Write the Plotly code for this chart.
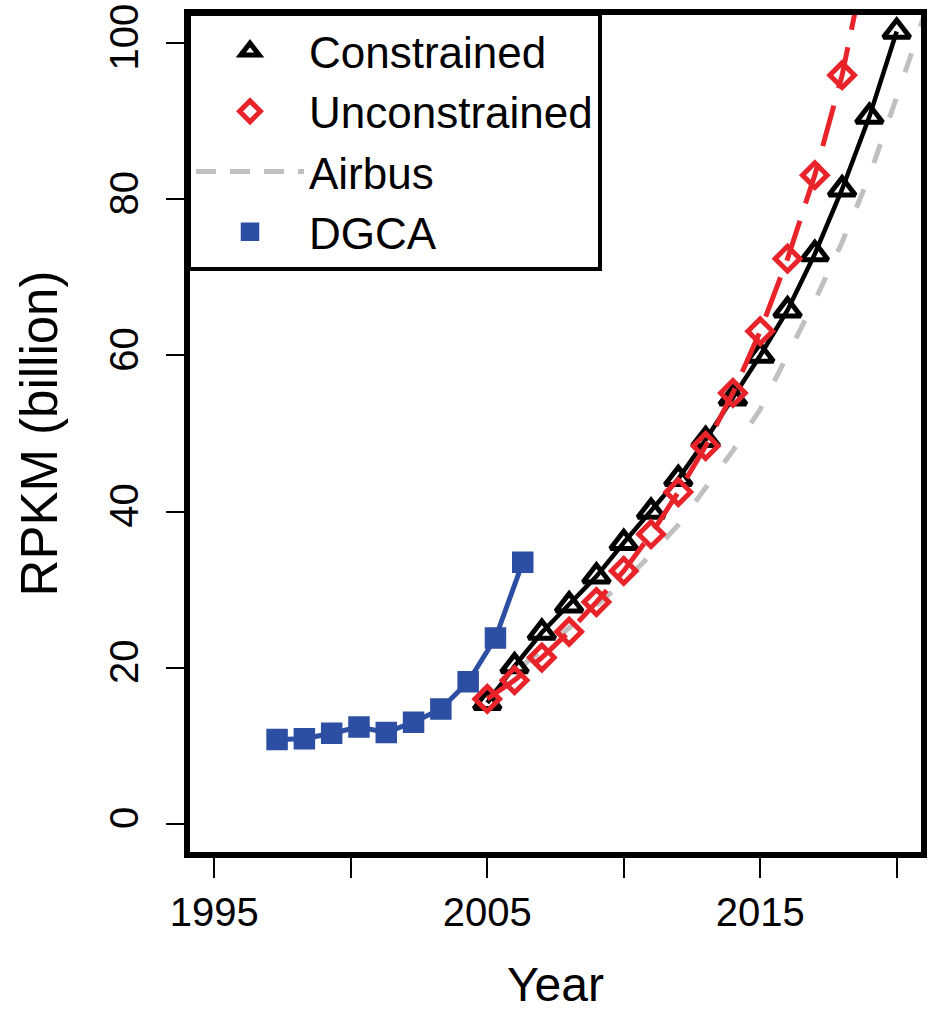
import plotly.graph_objects as go

# ---- data ----
proj_years = [2005, 2006, 2007, 2008, 2009, 2010, 2011, 2012, 2013, 2014,
              2015, 2016, 2017, 2018, 2019, 2020]
constrained = [15.5, 20.2, 24.5, 28.0, 31.7, 36.0, 40.0, 44.2, 49.2, 54.5,
               60.0, 65.8, 73.0, 81.3, 90.6, 101.5]
unconstrained = [16.0, 18.4, 21.3, 24.6, 28.4, 32.4, 37.1, 42.5, 48.4, 55.2,
                 63.1, 72.4, 83.1, 95.9, 113.0, 132.0]
airbus_years = [2005, 2006, 2007, 2008, 2009, 2010, 2011, 2012, 2013, 2014,
                2015, 2016, 2017, 2018, 2019, 2020, 2021]
airbus = [16.0, 19.5, 22.2, 25.0, 28.0, 31.0, 34.5, 38.3, 43.0, 47.8,
          53.1, 59.9, 67.0, 74.5, 83.0, 93.1, 103.5]
dgca_years = [1997.3, 1998.3, 1999.3, 2000.3, 2001.3, 2002.3, 2003.3,
              2004.3, 2005.3, 2006.3]
dgca = [10.8, 10.9, 11.6, 12.4, 11.7, 13.0, 14.7, 18.2, 23.8, 33.5]

x_tickvals = [1995, 2000, 2005, 2010, 2015, 2020]
x_ticktext = ["1995", "", "2005", "", "2015", ""]
y_tickvals = [0, 20, 40, 60, 80, 100]
y_ticktext = ["0", "20", "40", "60", "80", "100"]

series_names = ["Constrained", "Unconstrained", "Airbus", "DGCA"]

BLACK = "#000000"
RED = "#E8232A"
GREY = "#C0C0C0"
BLUE = "#2D4FA3"
FONT = "Liberation Sans, Arial, Helvetica, sans-serif"

fig = go.Figure()

# Airbus (grey dashed)
fig.add_trace(go.Scatter(x=airbus_years, y=airbus, mode="lines",
                         line=dict(color=GREY, width=5, dash="20px,28px"),
                         showlegend=False, hoverinfo="skip"))
# Constrained
fig.add_trace(go.Scatter(x=proj_years, y=constrained, mode="lines+markers",
                         line=dict(color=BLACK, width=4.5),
                         marker=dict(symbol="triangle-up-open", size=23,
                                     color=BLACK, line=dict(width=5, color=BLACK)),
                         showlegend=False))
# Unconstrained
fig.add_trace(go.Scatter(x=proj_years, y=unconstrained, mode="lines+markers",
                         line=dict(color=RED, width=5, dash="42px,18px"),
                         marker=dict(symbol="diamond-open", size=19,
                                     color=RED, line=dict(width=5, color=RED)),
                         showlegend=False))
# DGCA
fig.add_trace(go.Scatter(x=dgca_years, y=dgca, mode="lines+markers",
                         line=dict(color=BLUE, width=5),
                         marker=dict(symbol="square", size=19, color=BLUE,
                                     line=dict(width=2.5, color=BLUE)),
                         showlegend=False))

# legend entries (R style: symbol only / line only)
fig.add_trace(go.Scatter(x=[None], y=[None], mode="markers", name=series_names[0],
                         legendgroup="a",
                         marker=dict(symbol="triangle-up-open", size=23, color=BLACK,
                                     line=dict(width=5, color=BLACK))))
fig.add_trace(go.Scatter(x=[None], y=[None], mode="markers", name=series_names[1],
                         legendgroup="b",
                         marker=dict(symbol="diamond-open", size=19, color=RED,
                                     line=dict(width=5, color=RED))))
fig.add_trace(go.Scatter(x=[None], y=[None], mode="lines", name=series_names[2],
                         legendgroup="c",
                         line=dict(color=GREY, width=5, dash="20px,14px")))
fig.add_trace(go.Scatter(x=[None], y=[None], mode="markers", name=series_names[3],
                         legendgroup="d",
                         marker=dict(symbol="square", size=19, color=BLUE,
                                     line=dict(width=2.5, color=BLUE))))

fig.update_layout(
    width=933, height=1011,
    margin=dict(l=187, r=9, t=12, b=156, autoexpand=False),
    paper_bgcolor="white", plot_bgcolor="white",
    font=dict(family=FONT, color="black"),
    showlegend=True,
    legend=dict(x=0, y=1, xanchor="left", yanchor="top",
                xref="paper", yref="paper",
                bgcolor="white", bordercolor="black", borderwidth=4,
                font=dict(size=44, family=FONT, color="black"),
                itemwidth=108, tracegroupgap=0, traceorder="normal",
                itemclick=False),
    xaxis=dict(range=[1994, 2021], tickmode="array", tickvals=x_tickvals,
               ticktext=x_ticktext, ticks="outside", ticklen=22, tickwidth=2,
               tickcolor="black", showgrid=False, zeroline=False, showline=False,
               automargin=False,
               tickfont=dict(size=40, family=FONT),
               title=dict(text="Year", font=dict(size=48, family=FONT), standoff=45)),
    yaxis=dict(range=[-4, 104], tickmode="array", tickvals=y_tickvals,
               ticktext=y_ticktext, ticks="outside", ticklen=20, tickwidth=2,
               tickcolor="black", showgrid=False, zeroline=False, showline=False,
               automargin=False,
               tickangle=-90, ticklabelstandoff=12,
               tickfont=dict(size=40, family=FONT),
               title=dict(text="RPKM (billion)", font=dict(size=51, family=FONT),
                          standoff=28)),
    shapes=[dict(type="rect", xref="paper", yref="paper", x0=0, x1=1, y0=0, y1=1,
                 line=dict(color="black", width=6), layer="above")],
)

fig.write_html("out.html")
